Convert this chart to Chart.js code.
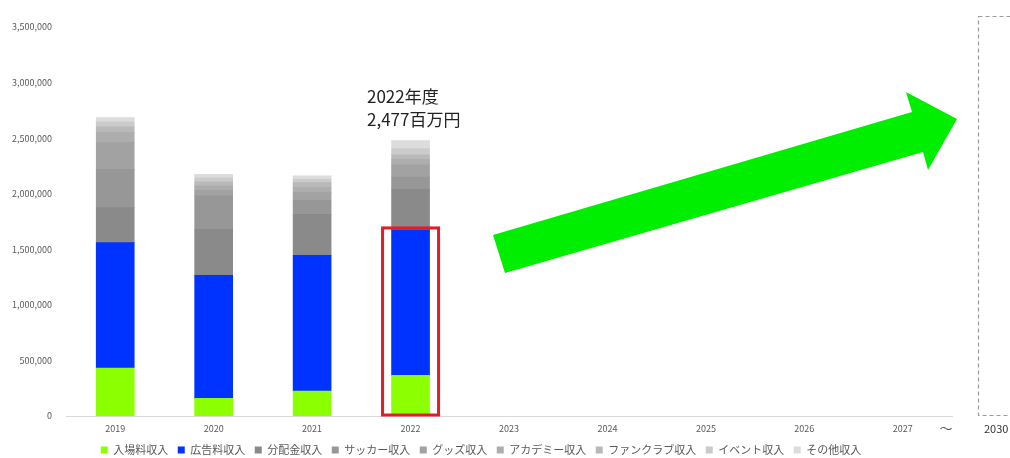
<!DOCTYPE html>
<html lang="ja">
<head>
<meta charset="utf-8">
<title>収入推移</title>
<script src="https://cdn.jsdelivr.net/npm/chart.js@4.4.1/dist/chart.umd.min.js"></script>
<style>
  html, body { margin: 0; padding: 0; background: #fff; }
  #wrap { width: 1010px; height: 458px; position: relative; }
</style>
</head>
<body>
<div id="wrap"><canvas id="revenueChart"></canvas></div>
<script>
// 年度（千円単位）
var years = ['2019', '2020', '2021', '2022', '2023', '2024', '2025', '2026', '2027'];

var admission    = [432000, 159000, 225000, 366000];   // 入場料収入
var sponsorship  = [1128000, 1106000, 1221000, 1308000]; // 広告料収入
var distribution = [315000, 415000, 369000, 366000];   // 分配金収入
var soccer       = [345000, 300000, 126000, 110000];   // サッカー収入
var goods        = [240000, 50000, 69000, 110000];     // グッズ収入
var academy      = [90000, 40000, 45000, 50000];       // アカデミー収入
var fanclub      = [51000, 36000, 45000, 40000];       // ファンクラブ収入
var events       = [45000, 36000, 30000, 57000];       // イベント収入
var others       = [39000, 33000, 30000, 70000];       // その他収入

var yTicks = [0, 500000, 1000000, 1500000, 2000000, 2500000, 3000000, 3500000];

var seriesNames = ['入場料収入', '広告料収入', '分配金収入', 'サッカー収入', 'グッズ収入',
                   'アカデミー収入', 'ファンクラブ収入', 'イベント収入', 'その他収入'];
var seriesData = [admission, sponsorship, distribution, soccer, goods, academy, fanclub, events, others];
var seriesColors = ['#8cff00', '#0033ff', '#8a8a8a', '#979797', '#a2a2a2',
                    '#adadad', '#b9b9b9', '#cbcbcb', '#dcdcdc'];

var FONT = '"Noto Sans CJK JP", "Noto Sans", sans-serif';
var TEXT = '#595959';

var datasets = seriesNames.map(function (name, i) {
    return {
        label: name,
        data: seriesData[i],
        backgroundColor: seriesColors[i],
        borderWidth: 0,
        barThickness: 38
    };
});

// 2022年度の合計（百万円）
var idx2022 = years.indexOf('2022');
var total2022 = seriesData.reduce(function (s, arr) { return s + arr[idx2022]; }, 0);

// 注記・矢印・2030年の枠
var decorations = {
    id: 'decorations',
    afterDraw: function (chart) {
        var ctx = chart.ctx;
        var x = chart.scales.x, y = chart.scales.y;

        // 2022年の入場料+広告料を囲む赤枠
        var cx = x.getPixelForValue(idx2022);
        var top = y.getPixelForValue(admission[idx2022] + sponsorship[idx2022]);
        var bottom = y.getPixelForValue(0);
        ctx.save();
        ctx.strokeStyle = '#e01e28';
        ctx.lineWidth = 3;
        ctx.strokeRect(cx - 28, top - 2, 56, bottom - top + 1);

        // 年度と合計
        ctx.fillStyle = '#222';
        ctx.font = '17px ' + FONT;
        ctx.textBaseline = 'middle';
        ctx.textAlign = 'left';
        ctx.fillText('2022年度', 367, 97);
        ctx.fillText(Math.round(total2022 / 1000).toLocaleString('en-US') + '百万円', 367, 120);

        // 成長の矢印
        ctx.fillStyle = '#00ee00';
        ctx.beginPath();
        ctx.moveTo(493, 235);
        ctx.lineTo(912, 112);
        ctx.lineTo(906, 92);
        ctx.lineTo(957, 119);
        ctx.lineTo(928, 170);
        ctx.lineTo(923, 152);
        ctx.lineTo(505, 273);
        ctx.closePath();
        ctx.fill();

        // 2030年の点線枠
        ctx.strokeStyle = '#9a9a9a';
        ctx.lineWidth = 1.2;
        ctx.setLineDash([4, 3]);
        ctx.strokeRect(978.5, 16.5, 60, bottom - 17);
        ctx.setLineDash([]);

        ctx.fillStyle = TEXT;
        ctx.font = '13px ' + FONT;
        ctx.textAlign = 'center';
        ctx.fillText('〜', 946, 428);
        ctx.fillStyle = '#333';
        ctx.font = '11px ' + FONT;
        ctx.textAlign = 'left';
        ctx.fillText('2030', 984, 429);
        ctx.restore();
    }
};

var ctx = document.getElementById('revenueChart').getContext('2d');
var revenueChart = new Chart(ctx, {
    type: 'bar',
    data: { labels: years, datasets: datasets },
    options: {
        responsive: true,
        maintainAspectRatio: false,
        animation: false,
        layout: { padding: { top: 27, right: 58, left: 10, bottom: -7.5 } },
        scales: {
            x: {
                stacked: true,
                afterFit: function (scale) { scale.height = 19; },
                grid: { display: false, drawTicks: false },
                border: { display: true, color: '#d9d9d9', width: 1 },
                ticks: { color: TEXT, font: { family: FONT, size: 9 }, padding: 7 }
            },
            y: {
                stacked: true,
                min: 0,
                max: 3500000,
                afterBuildTicks: function (scale) {
                    scale.ticks = yTicks.map(function (v) { return { value: v }; });
                },
                afterFit: function (scale) { scale.width = 56; },
                grid: { display: false, drawTicks: false },
                border: { display: false },
                ticks: {
                    color: TEXT,
                    font: { family: FONT, size: 9 },
                    padding: 14,
                    callback: function (v) { return Number(v).toLocaleString('en-US'); }
                }
            }
        },
        plugins: {
            legend: {
                position: 'bottom',
                labels: {
                    boxWidth: 7,
                    boxHeight: 7,
                    padding: 9.5,
                    color: TEXT,
                    font: { family: FONT, size: 11 }
                }
            },
            tooltip: { enabled: false }
        }
    },
    plugins: [decorations]
});
</script>
</body>
</html>
